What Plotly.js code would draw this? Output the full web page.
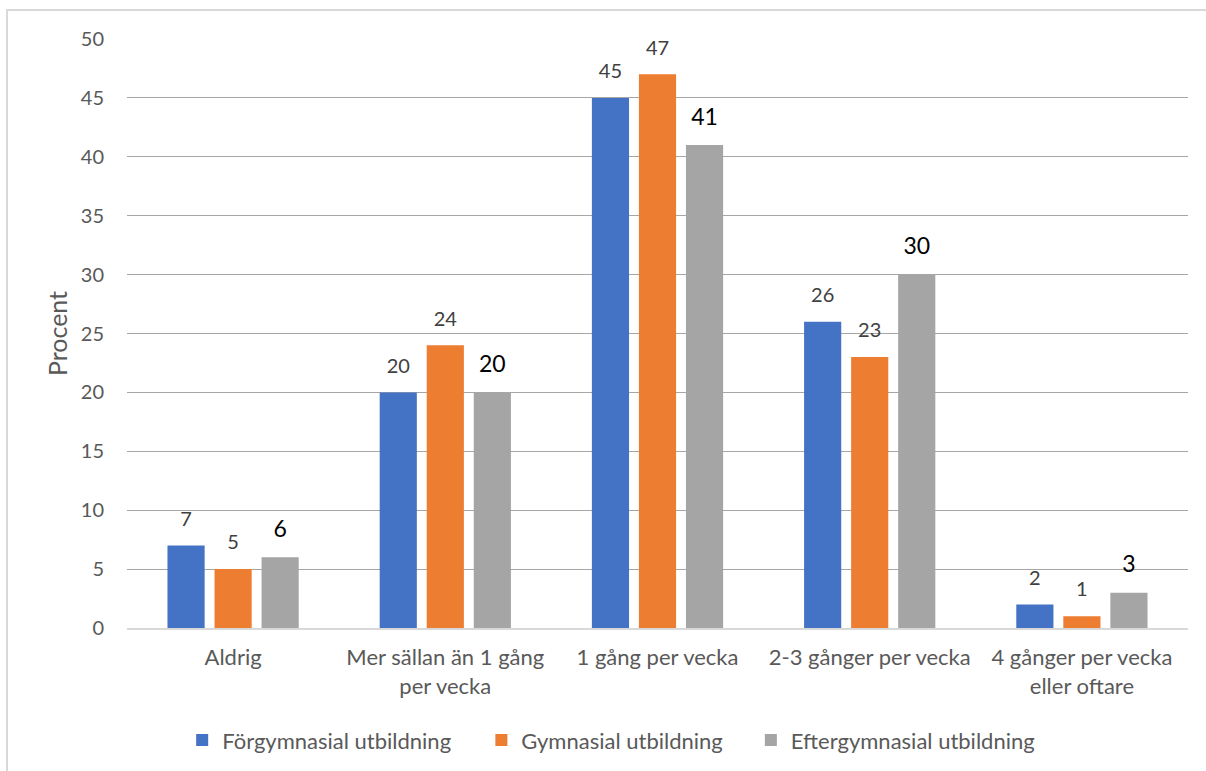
<!DOCTYPE html>
<html>
<head>
<meta charset="utf-8">
<script src="https://cdn.plot.ly/plotly-3.0.1.min.js"></script>
<style>
html,body{margin:0;padding:0;background:#fff;}
#frame{position:absolute;left:6px;top:9px;width:1300px;height:900px;border-top:2px solid #d9d9d9;border-left:2px solid #d9d9d9;pointer-events:none;z-index:5;}
#chart{position:absolute;left:0;top:0;width:1206px;height:771px;}
</style>
</head>
<body>
<div id="chart"></div>
<div id="frame"></div>
<script>
const categories = ["Aldrig", "Mer sällan än 1 gång<br>per vecka", "1 gång per vecka", "2-3 gånger per vecka", "4 gånger per vecka<br>eller oftare"];
const seriesNames = ["Förgymnasial utbildning", "Gymnasial utbildning", "Eftergymnasial utbildning"];
const forgymnasial = [7, 20, 45, 26, 2];
const gymnasial = [5, 24, 47, 23, 1];
const eftergymnasial = [6, 20, 41, 30, 3];
const yTicks = [0, 5, 10, 15, 20, 25, 30, 35, 40, 45, 50];

const font = "Lato, 'Open Sans', sans-serif";
const colors = ["#4472c4", "#ed7d31", "#a5a5a5"];
const labelColors = ["#404040", "#404040", "#000000"];
const labelSizes = [20, 20, 23];
const allVals = [forgymnasial, gymnasial, eftergymnasial];
const legendIds = ["legend", "legend2", "legend3"];
const legendX = [0.052, 0.334, 0.588];

const data = [];
allVals.forEach((vals, i) => {
  data.push({
    type: "bar", name: seriesNames[i], x: categories, y: vals,
    offsetgroup: String(i), alignmentgroup: "a", legend: legendIds[i],
    marker: {color: colors[i]}, hoverinfo: "none"
  });
});
allVals.forEach((vals, i) => {
  data.push({
    type: "scatter", mode: "markers+text", x: categories, y: vals,
    offsetgroup: String(i), alignmentgroup: "a",
    marker: {size: 22, opacity: 0}, showlegend: false, cliponaxis: false,
    text: vals.map(String), textposition: "top center",
    textfont: {family: font, size: labelSizes[i], color: labelColors[i]},
    hoverinfo: "none"
  });
});
const legendBase = {
  orientation: "h", xanchor: "left", y: -0.155, yanchor: "top",
  font: {family: font, size: 22, color: "#595959"}, itemwidth: 30
};
const layout = {
  width: 1206, height: 771,
  margin: {l: 127, r: 18, t: 39, b: 143, autoexpand: false},
  paper_bgcolor: "#fff", plot_bgcolor: "#fff",
  barmode: "group", bargap: 0.335, bargroupgap: 0.21,
  scattermode: "group", scattergap: 0.335,
  font: {family: font, size: 20, color: "#595959"},
  yaxis: {
    range: [0, 50], tickvals: yTicks, ticktext: yTicks.map(String),
    showgrid: true, gridcolor: "#a6a6a6", gridwidth: 1,
    zeroline: false, showline: false, ticks: "", automargin: false,
    ticklabelstandoff: 22,
    tickfont: {family: font, size: 20, color: "#595959"},
    title: {text: "Procent", font: {family: font, size: 25, color: "#595959"}, standoff: 6}
  },
  xaxis: {
    showline: true, linecolor: "#d9d9d9", linewidth: 1.5, ticks: "", automargin: false,
    tickfont: {family: font, size: 22, color: "#595959"},
    ticklabelstandoff: 9
  },
  legend: Object.assign({}, legendBase, {x: legendX[0]}),
  legend2: Object.assign({}, legendBase, {x: legendX[1]}),
  legend3: Object.assign({}, legendBase, {x: legendX[2]}),
  showlegend: true
};
Plotly.newPlot("chart", data, layout, {displayModeBar: false, staticPlot: true});
</script>
</body>
</html>
